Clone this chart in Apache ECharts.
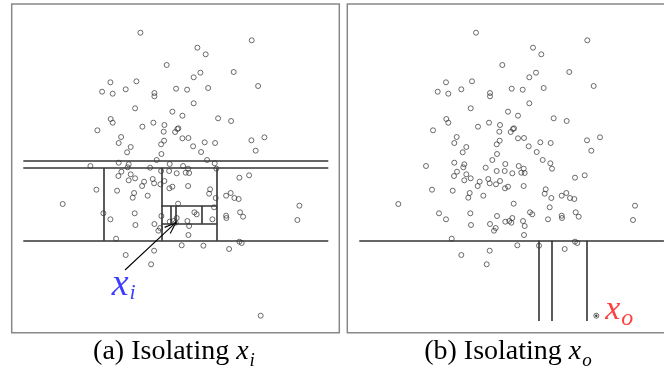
<!DOCTYPE html>
<html>
<head>
<meta charset="utf-8">
<script src="https://cdn.jsdelivr.net/npm/echarts@6/dist/echarts.min.js"></script>
<style>
  html, body { margin: 0; padding: 0; background: #fff; }
  #main { width: 664px; height: 371px; }
</style>
</head>
<body>
<div id="main"></div>
<script>
// sample points, [u, v] in panel units (v grows downward)
const points = [
  [128.7,28.7],[240.0,36.3],[185.7,43.7],[194.0,50.3],[155.0,61.0],[222.0,68.0],[188.7,68.7],[182.0,73.3],
  [98.7,78.3],[124.7,77.3],[90.4,87.7],[101.0,89.7],[114.0,85.3],[142.7,89.0],[142.7,92.3],[164.4,84.7],
  [175.4,85.7],[196.4,84.0],[246.4,82.0],[182.0,99.3],[123.4,104.3],[160.7,107.7],[170.7,111.7],[206.4,114.3],
  [219.4,117.0],[99.0,115.0],[101.0,118.7],[130.7,122.7],[141.7,118.7],[152.7,121.0],[152.0,127.7],[166.7,124.3],
  [165.7,125.0],[163.4,128.0],[85.7,126.3],[109.4,133.0],[107.0,139.0],[119.0,143.0],[152.4,136.7],[149.4,140.3],
  [170.7,134.3],[176.7,134.0],[181.4,142.3],[193.0,138.3],[203.4,139.0],[239.7,136.3],[252.7,133.3],
  [115.4,148.3],[149.7,150.0],[189.4,148.0],[244.0,146.7],[78.7,162.0],[107.0,158.7],[117.0,160.3],[116.0,163.3],
  [138.4,163.7],[145.0,156.0],[158.0,160.0],[149.4,167.0],[157.4,167.0],[165.0,169.3],[171.4,162.0],[176.4,164.7],
  [174.0,168.7],[177.4,169.0],[195.4,156.0],[203.0,159.3],[204.7,164.7],[227.7,173.7],[237.4,171.3],[109.7,167.7],
  [106.7,172.0],[119.0,170.3],[123.4,174.3],[117.0,176.3],[132.4,177.7],[130.4,182.0],[141.0,175.0],[142.4,179.3],
  [148.7,180.3],[152.7,177.0],[157.7,184.3],[160.7,182.7],[176.4,182.0],[198.4,185.3],[197.4,189.7],[204.0,194.0],
  [214.4,191.7],[219.0,189.0],[222.7,194.0],[227.0,195.0],[84.7,185.7],[105.4,186.7],[122.4,189.0],[121.0,193.7],
  [136.0,191.7],[51.0,200.0],[166.4,199.7],[91.7,209.3],[98.7,215.3],[123.0,209.3],[123.7,221.0],[149.7,212.0],
  [142.7,220.0],[148.4,224.0],[146.7,226.7],[158.0,217.7],[162.0,217.0],[165.0,214.0],[175.7,217.0],[177.4,222.0],
  [176.7,231.0],[182.7,208.3],[185.0,210.3],[200.7,215.3],[202.4,203.3],[214.4,211.7],[214.7,214.0],[228.4,208.3],
  [231.4,212.7],[287.7,201.7],[285.7,216.0],[104.4,234.7],[142.4,246.7],[114.0,251.0],[139.4,260.3],[170.0,241.3],
  [191.7,241.7],[217.4,245.0],[227.7,237.7],[230.0,239.0],
  [164.0,218.7],[249.0,311.7]
];
const xi = [164.0, 218.7];
const xo = [249.0, 311.7];

// partition lines for each panel
const cutsA = [
  [[11.6,156.3],[316.6,156.3]],
  [[11.6,163.7],[316.6,163.7]],
  [[11.6,236.7],[316.6,236.7]],
  [[92,163.7],[92,236.7]],
  [[149.6,163.7],[149.6,236.7]],
  [[205,163.7],[205,236.7]],
  [[149.6,202],[205,202]],
  [[149.6,219.7],[205,219.7]],
  [[189.6,202],[189.6,219.7]],
  [[158.6,202],[158.6,219.7]],
  [[164,202],[164,219.7]]
];
const cutsB = [
  [[12,236.7],[316.6,236.7]],
  [[191.7,236.7],[191.7,317]],
  [[204,236.7],[204,317]],
  [[239.4,236.7],[239.4,317]]
];
const arrowStart = [113.3, 266];
const captions = ['(a) Isolating {x|x}{s|i}', '(b) Isolating {x|x}{s|o}'];

let dom = document.getElementById('main');
let myChart = echarts.init(dom, null, { renderer: 'canvas' });

const W = 327.6, H = 328.7;

// open arrow head drawn as two short barbs
function barbs(from, to, len, ang) {
  let a = Math.atan2(to[1] - from[1], to[0] - from[0]);
  let out = [];
  [ang, -ang].forEach(d => {
    let t = a + Math.PI + d;
    out.push({ coords: [to, [to[0] + len * Math.cos(t), to[1] + len * Math.sin(t)]] });
  });
  return out;
}

function panelSeries(idx, cuts, special) {
  return [
    {
      type: 'scatter', xAxisIndex: idx, yAxisIndex: idx,
      symbol: 'circle', symbolSize: 5,
      itemStyle: { color: 'rgba(0,0,0,0)', borderColor: '#333', borderWidth: 0.9 },
      data: points, silent: true
    },
    {
      type: 'scatter', xAxisIndex: idx, yAxisIndex: idx,
      symbolSize: 2.4, itemStyle: { color: '#000' },
      data: [special], silent: true
    },
    {
      type: 'lines', coordinateSystem: 'cartesian2d', xAxisIndex: idx, yAxisIndex: idx,
      lineStyle: { color: '#333', width: 1.6, opacity: 1 },
      data: cuts.map(c => ({ coords: c })), silent: true
    }
  ];
}

let series = panelSeries(0, cutsA, xi).concat(panelSeries(1, cutsB, xo));

// arrow to x_i
series.push({
  type: 'lines', coordinateSystem: 'cartesian2d', xAxisIndex: 0, yAxisIndex: 0,
  lineStyle: { color: '#000', width: 1.1, opacity: 1 },
  data: [{ coords: [arrowStart, xi] }].concat(barbs(arrowStart, xi, 12, 0.35)),
  silent: true
});

// x_i / x_o labels
series.push({
  type: 'scatter', xAxisIndex: 0, yAxisIndex: 0, symbolSize: 0,
  data: [[112, 281]],
  label: {
    show: true, position: 'inside', color: '#0d0dff',
    formatter: '{x|x}{s|i}',
    rich: {
      x: { fontFamily: 'Liberation Serif', fontStyle: 'italic', fontSize: 38, lineHeight: 38, verticalAlign: 'top', color: '#0d0dff' },
      s: { fontFamily: 'Liberation Serif', fontStyle: 'italic', fontSize: 22, lineHeight: 22, padding: [16, 0, 0, 1], verticalAlign: 'top', color: '#0d0dff' }
    }
  },
  silent: true
});
series.push({
  type: 'scatter', xAxisIndex: 1, yAxisIndex: 1, symbolSize: 0,
  data: [[272, 306]],
  label: {
    show: true, position: 'inside', color: '#ff1010',
    formatter: '{x|x}{s|o}',
    rich: {
      x: { fontFamily: 'Liberation Serif', fontStyle: 'italic', fontSize: 34, lineHeight: 34, verticalAlign: 'top', color: '#ff1010' },
      s: { fontFamily: 'Liberation Serif', fontStyle: 'italic', fontSize: 24, lineHeight: 24, padding: [14, 0, 0, 1], verticalAlign: 'top', color: '#ff1010' }
    }
  },
  silent: true
});

const capRich = {
  x: { fontFamily: 'Liberation Serif', fontStyle: 'italic', fontSize: 28, lineHeight: 28, verticalAlign: 'top', fill: '#000' },
  s: { fontFamily: 'Liberation Serif', fontStyle: 'italic', fontSize: 19, lineHeight: 19, padding: [13, 0, 0, 1], verticalAlign: 'top', fill: '#000' }
};

let option = {
  animation: false,
  grid: [
    { left: 11.7, top: 4, width: W, height: H, outerBoundsMode: 'none', show: true, borderColor: '#888', borderWidth: 1.5, backgroundColor: 'transparent' },
    { left: 347.3, top: 4, width: W, height: H, outerBoundsMode: 'none', show: true, borderColor: '#888', borderWidth: 1.5, backgroundColor: 'transparent' }
  ],
  xAxis: [
    { type: 'value', gridIndex: 0, min: 0, max: W, show: false },
    { type: 'value', gridIndex: 1, min: 0, max: W, show: false }
  ],
  yAxis: [
    { type: 'value', gridIndex: 0, min: 0, max: H, inverse: true, show: false },
    { type: 'value', gridIndex: 1, min: 0, max: H, inverse: true, show: false }
  ],
  graphic: [
    {
      type: 'text', x: 174, y: 352,
      style: { text: captions[0], fontFamily: 'Liberation Serif', fontSize: 28, fill: '#000', align: 'center', verticalAlign: 'middle', rich: capRich }
    },
    {
      type: 'text', x: 508, y: 352,
      style: { text: captions[1], fontFamily: 'Liberation Serif', fontSize: 28, fill: '#000', align: 'center', verticalAlign: 'middle', rich: capRich }
    }
  ],
  series: series
};

myChart.setOption(option);
window.addEventListener('resize', myChart.resize);
</script>
</body>
</html>
